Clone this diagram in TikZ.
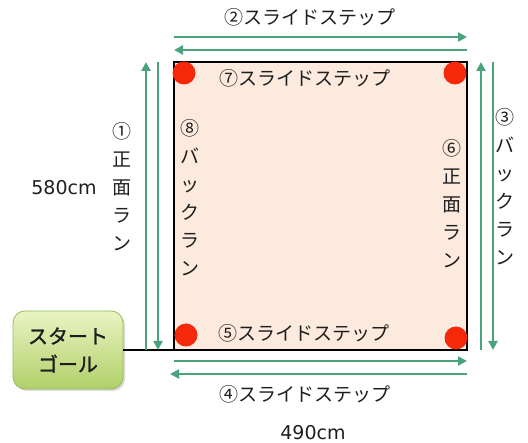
\documentclass[tikz,border=0pt]{standalone}
\usepackage{fontspec}
\setmainfont{Noto Sans CJK JP}
\newfontfamily\latinf{DejaVu Sans}
\newfontfamily\jpbold[FakeBold=1.5]{Noto Sans CJK JP}
\usetikzlibrary{arrows.meta,shadows}
\definecolor{arrowgreen}{RGB}{74,163,122}
\definecolor{peach}{RGB}{252,234,222}
\definecolor{dotred}{RGB}{246,40,10}
\definecolor{boxtop}{RGB}{234,244,196}
\definecolor{boxbot}{RGB}{176,208,104}
\definecolor{boxborder}{RGB}{150,185,90}
\definecolor{textdark}{RGB}{30,30,30}
\begin{document}
\begin{tikzpicture}[x=1pt,y=-1pt,
  garrow/.style={draw=arrowgreen,line width=2.4pt,-{Triangle[length=9pt,width=9pt]}},
  jlabel/.style={font=\fontsize{19}{28}\selectfont,text=textdark,inner sep=0pt,align=center},
  numlabel/.style={font=\latinf\fontsize{19}{22}\selectfont,text=textdark,inner sep=0pt},
  reddot/.style={circle,fill=dotred,minimum size=23pt,inner sep=0pt},
  field/.style={draw=black,line width=2pt,fill=peach,inner sep=0pt,outer sep=0pt},
  startbox/.style={draw=boxborder,line width=0.8pt,rounded corners=12pt,top color=boxtop,bottom color=boxbot,
    drop shadow={opacity=0.3,shadow xshift=2pt,shadow yshift=-2pt},
    minimum width=110pt,minimum height=78pt,align=center,inner sep=0pt,outer sep=0pt,
    font=\jpbold\fontsize{20}{28}\selectfont,text=textdark}
]
\useasboundingbox (0,0) rectangle (528,443);

% field
\node[field,minimum width=293pt,minimum height=288pt,anchor=north west] (field) at (174,62) {};

% start/goal box
\node[startbox] (start) at (68,350) {スタート\\ゴール};
\draw[line width=2pt] (start.east) -- (start.east -| field.west);

% red dots
\node[reddot] (d1) at (184,73) {};
\node[reddot] (d2) at (455,73) {};
\node[reddot] (d3) at (186,335) {};
\node[reddot] (d4) at (456,338) {};

% arrow endpoints
\coordinate (ta1) at (174,37); \coordinate (tb1) at (467,37);
\coordinate (ta2) at (467,50); \coordinate (tb2) at (174,50);
\coordinate (ba1) at (174,361); \coordinate (bb1) at (467,361);
\coordinate (ba2) at (467,374); \coordinate (bb2) at (170,374);
\coordinate (la1) at (146,350); \coordinate (lb1) at (146,62);
\coordinate (la2) at (158,62); \coordinate (lb2) at (158,350);
\coordinate (ra1) at (481,350); \coordinate (rb1) at (481,62);
\coordinate (ra2) at (493,62); \coordinate (rb2) at (493,350);

\draw[garrow] (ta1) -- (tb1);
\draw[garrow] (ta2) -- (tb2);
\draw[garrow] (ba1) -- (bb1);
\draw[garrow] (ba2) -- (bb2);
\draw[garrow] (la1) -- (lb1);
\draw[garrow] (la2) -- (lb2);
\draw[garrow] (ra1) -- (rb1);
\draw[garrow] (ra2) -- (rb2);

% labels
\node[jlabel] (l2) at (310,17) {②スライドステップ};
\node[jlabel] (l7) at (305,78) {⑦スライドステップ};
\node[jlabel] (l5) at (304,333) {⑤スライドステップ};
\node[jlabel] (l4) at (305,394) {④スライドステップ};
\node[jlabel] (l1) at (122,187) {①\\正\\面\\ラ\\ン};
\node[jlabel] (l8) at (190,198) {⑧\\バ\\ッ\\ク\\ラ\\ン};
\node[jlabel] (l6) at (452,204) {⑥\\正\\面\\ラ\\ン};
\node[jlabel] (l3) at (505,187) {③\\バ\\ッ\\ク\\ラ\\ン};
\node[numlabel] (w) at (313,433) {490cm};
\node[numlabel] (h) at (64,188) {580cm};
\end{tikzpicture}
\end{document}
